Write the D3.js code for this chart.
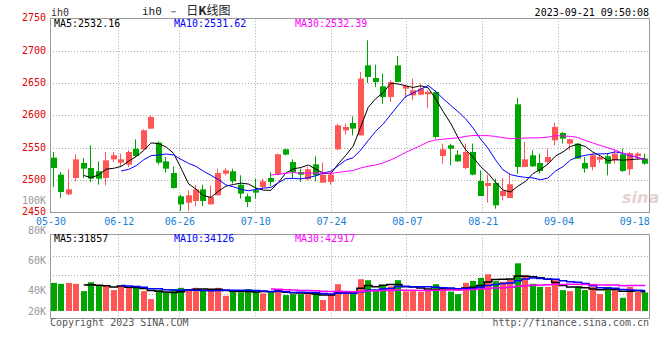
<!DOCTYPE html>
<html><head><meta charset="utf-8">
<script src="https://cdnjs.cloudflare.com/ajax/libs/d3/7.8.5/d3.min.js"></script>
<style>
body{margin:0;background:#fff}
svg{display:block}
text{font-family:"DejaVu Sans Mono","Liberation Mono",monospace;font-size:10px}
</style>
</head><body>
<svg id="c" width="660" height="360"></svg>
<script>
// ---------------- data ----------------
const dates = ["05-30","05-31","06-01","06-02","06-05","06-06","06-07","06-08","06-09","06-12",
"06-13","06-14","06-15","06-16","06-19","06-20","06-21","06-26","06-27","06-28",
"06-29","06-30","07-03","07-04","07-05","07-06","07-07","07-10","07-11","07-12",
"07-13","07-14","07-17","07-18","07-19","07-20","07-21","07-24","07-25","07-26",
"07-27","07-28","07-31","08-01","08-02","08-03","08-04","08-07","08-08","08-09",
"08-10","08-11","08-14","08-15","08-16","08-17","08-18","08-21","08-22","08-23",
"08-24","08-25","08-28","08-29","08-30","08-31","09-01","09-04","09-05","09-06",
"09-07","09-08","09-11","09-12","09-13","09-14","09-15","09-18","09-19","09-20"];
const open = [2534.5,2508.2,2477.8,2503.1,2526.3,2518.5,2513.4,2503.1,2531.9,2526.8,
2523.7,2548.4,2547.4,2579.4,2557.7,2528.8,2510.8,2474.7,2464.9,2467.5,
2485.5,2462.3,2476.3,2509.8,2513.4,2492.7,2474.7,2484.0,2489.1,2503.1,
2508.7,2547.4,2527.8,2512.3,2501.0,2524.2,2495.8,2496.9,2547.4,2576.8,
2588.1,2569.0,2677.3,2657.7,2644.8,2628.3,2677.3,2641.2,2630.9,2631.9,
2632.5,2636.1,2537.1,2553.6,2539.2,2518.5,2543.3,2498.4,2490.7,2495.3,
2475.2,2472.1,2617.0,2520.1,2538.1,2526.3,2527.8,2561.3,2572.7,2556.2,
2556.2,2526.3,2520.1,2531.4,2536.6,2530.4,2539.7,2516.5,2537.1,2533.0];
const high = [2543.3,2512.3,2516.5,2539.7,2534.0,2553.6,2528.8,2543.3,2543.3,2540.7,
2545.9,2562.9,2578.3,2600.0,2559.8,2535.5,2521.1,2477.3,2484.0,2491.7,
2492.7,2491.7,2517.5,2518.5,2517.5,2507.2,2478.8,2502.0,2502.0,2512.3,
2540.7,2548.4,2531.9,2517.5,2520.1,2536.6,2526.8,2512.3,2587.1,2587.1,
2598.4,2667.0,2716.0,2678.3,2664.4,2654.1,2691.7,2647.4,2656.7,2649.0,
2638.6,2638.6,2556.2,2556.2,2545.9,2556.2,2556.2,2514.9,2508.2,2502.0,
2503.1,2509.8,2626.8,2558.7,2545.9,2540.7,2548.4,2588.6,2574.2,2563.9,
2557.2,2535.5,2540.7,2538.1,2540.7,2545.9,2548.4,2543.3,2543.3,2540.7];
const low = [2489.0,2472.1,2476.3,2497.9,2503.1,2496.9,2492.8,2491.7,2527.8,2521.6,
2520.0,2535.5,2545.9,2579.4,2523.7,2511.3,2486.6,2452.0,2452.0,2459.8,
2459.8,2462.3,2476.3,2507.2,2494.3,2471.1,2458.2,2471.1,2485.5,2490.7,
2507.2,2538.1,2502.0,2496.9,2499.4,2497.9,2495.8,2492.7,2545.9,2570.1,
2569.0,2569.0,2650.0,2643.8,2618.0,2620.6,2651.5,2626.8,2623.2,2630.9,
2611.3,2563.9,2525.2,2522.7,2527.8,2516.5,2507.2,2475.2,2464.9,2455.6,
2468.5,2472.1,2509.8,2520.1,2520.1,2509.8,2525.2,2553.6,2556.2,2545.9,
2533.0,2511.3,2514.9,2526.3,2507.2,2525.2,2512.3,2507.2,2530.4,2523.7];
const close = [2518.5,2481.4,2485.5,2531.9,2517.5,2502.0,2502.0,2530.4,2538.1,2531.9,
2543.3,2537.1,2576.8,2597.4,2526.8,2517.5,2487.6,2462.3,2476.3,2485.5,
2467.5,2473.7,2510.8,2514.9,2497.9,2478.8,2466.0,2480.4,2497.9,2496.9,
2539.7,2539.2,2512.3,2508.2,2516.5,2507.2,2508.2,2508.2,2584.5,2581.9,
2579.4,2656.7,2659.3,2651.5,2628.3,2651.5,2651.5,2645.3,2638.6,2641.2,
2636.1,2566.5,2547.4,2548.4,2528.8,2543.3,2508.2,2475.2,2495.3,2460.8,
2483.0,2493.3,2520.1,2531.9,2521.1,2513.9,2535.5,2581.9,2563.9,2562.9,
2533.0,2517.5,2538.1,2535.5,2525.2,2540.7,2513.9,2541.7,2540.7,2525.2];
const volume = [47000,45300,47000,45300,33200,48100,42000,41500,34900,41500,
38700,38700,33200,19900,34900,31000,36500,38700,36500,38700,
33700,34900,38700,25400,32000,31000,36500,33200,29400,31000,
36500,26600,28200,28200,28200,31000,18300,27700,44800,29900,
33500,53100,51500,34900,41800,41000,51500,32700,34000,32000,
34400,44800,40300,32400,28200,47000,50300,55300,61400,49800,
48600,53100,79700,59800,45300,40300,40300,51500,34900,33200,
40300,34900,40300,28200,40300,34900,22100,40300,32000,31000];
const dateTicks = ["05-30","06-12","06-26","07-10","07-24","08-07","08-21","09-04","09-18"];
const priceTicks = [2750,2700,2650,2600,2550,2500,2450];
const volTickValues = [100000,80000,60000,40000,20000];
const volTickLabels = ["100K","80K","60K","40K","20K"];
const maPeriods = [5,10,30];
const maColors = ["#000000","#0000ff","#ff00ff"];
const priceLegend = ["MA5:2532.16","MA10:2531.62","MA30:2532.39"];
const volLegend = ["MA5:31857","MA10:34126","MA30:42917"];

// ---------------- layout ----------------
const L = 50, R = 649;
const pTop = 18.3, pBot = 212.3;
const vTop = 234.5, vBot = 318.5, vBase = 311;
const UP = "#ff5555", DOWN = "#00a600";

const svg = d3.select("#c");
const x = d3.scaleBand().domain(dates).range([L, R]);
const bw = x.bandwidth();
const cx = i => x(dates[i]) + bw / 2;
const xl = d3.scaleLinear().domain([0, dates.length - 1]).range([L, R]);
const y = d3.scaleLinear().domain([2450, 2750]).range([pBot, pTop]);
const yv = d3.scaleLinear().domain([0, 127800]).range([vBase, vTop]);
const yvLab = d3.scaleLinear().domain([20000, 40000, 100000]).range([311, 290.7, 200.3]);

function ma(arr, n) {
  return arr.map((d, i) => i < n - 1 ? null : d3.mean(arr.slice(i - n + 1, i + 1)));
}

// header texts
svg.append("text").attr("x", 51).attr("y", 16).attr("fill", "#333").text("ih0");
const t = svg.append("text").attr("x", 142).attr("y", 15).attr("fill", "#222");
t.append("tspan").style("font-size", "11px").text("ih0 － ");
t.append("tspan").style("font-family", "'Noto Sans CJK SC'").style("font-size", "12px").text("日");
t.append("tspan").style("font-family", "'Noto Sans CJK SC'").style("font-size", "12px").style("font-weight", "bold").text("K");
t.append("tspan").style("font-family", "'Noto Sans CJK SC'").style("font-size", "12px").text("线图");
svg.append("text").attr("x", 649).attr("y", 15.5).attr("text-anchor", "end").attr("fill", "#000").text("2023-09-21 09:50:08");

// grid - price
const grid = svg.append("g").attr("stroke", "#aaa").attr("stroke-dasharray", "1,2").attr("stroke-width", 1);
priceTicks.slice(1, -1).forEach(v => {
  const yy = Math.round(y(v)) + 0.5;
  grid.append("line").attr("x1", L).attr("x2", R).attr("y1", yy).attr("y2", yy);
});
dateTicks.slice(1, -1).forEach(d => {
  const xx = Math.round(xl(dates.indexOf(d))) + 0.5;
  grid.append("line").attr("x1", xx).attr("x2", xx).attr("y1", pTop).attr("y2", pBot);
  grid.append("line").attr("x1", xx).attr("x2", xx).attr("y1", vTop).attr("y2", vBot);
});
// grid - volume (horizontal)
[0.253, 0.483, 0.709].forEach(f => {
  const yy = Math.round(vTop + f * (vBot - vTop)) + 0.5;
  grid.append("line").attr("x1", L).attr("x2", R).attr("y1", yy).attr("y2", yy);
});

// watermark
svg.append("text").attr("x", 622).attr("y", 203).style("font-family", "'DejaVu Sans'")
  .style("font-size", "16px").style("font-style", "italic").style("font-weight", "bold")
  .attr("fill", "#e6d2d2").text("sina");

// candles
const cg = svg.append("g");
dates.forEach((d, i) => {
  const up = close[i] >= open[i];
  const col = up ? UP : DOWN;
  const bx = Math.round(cx(i) - 3);
  cg.append("line").attr("x1", bx + 2.5).attr("x2", bx + 2.5)
    .attr("y1", y(high[i])).attr("y2", y(low[i])).attr("stroke", col).attr("stroke-width", 1);
  const top = y(Math.max(open[i], close[i])), bot = y(Math.min(open[i], close[i]));
  cg.append("rect").attr("x", bx).attr("width", 6)
    .attr("y", top).attr("height", Math.max(1, bot - top)).attr("fill", col);
  // volume
  cg.append("rect").attr("x", bx).attr("width", 6)
    .attr("y", yv(volume[i])).attr("height", vBase - yv(volume[i])).attr("fill", col);
});

// MA lines price
maPeriods.forEach((n, k) => {
  const m = ma(close, n);
  const line = d3.line().defined(d => d != null).x((d, i) => cx(i)).y(d => y(d));
  svg.append("path").attr("d", line(m)).attr("fill", "none").attr("stroke", maColors[k]).attr("stroke-width", 1);
  const mv = ma(volume, n);
  const lv = d3.line().defined(d => d != null).x((d, i) => cx(i)).y(d => yv(d)).curve(d3.curveStep);
  svg.append("path").attr("d", lv(mv)).attr("fill", "none").attr("stroke", maColors[k]).attr("stroke-width", 1.5);
});

// borders
svg.append("rect").attr("x", L + 0.5).attr("y", pTop + 0.2).attr("width", R - L).attr("height", pBot - pTop)
  .attr("fill", "none").attr("stroke", "#999");
svg.append("rect").attr("x", L + 0.5).attr("y", vTop).attr("width", R - L).attr("height", vBot - vTop)
  .attr("fill", "none").attr("stroke", "#999");

// legends
const legX = [54, 174, 295];
priceLegend.forEach((s, k) => svg.append("text").attr("x", legX[k]).attr("y", 27).attr("fill", maColors[k]).text(s));
volLegend.forEach((s, k) => svg.append("text").attr("x", legX[k]).attr("y", 242).attr("fill", maColors[k]).text(s));

// price axis labels
priceTicks.forEach(v => svg.append("text").attr("x", 46).attr("y", y(v) + 3).attr("text-anchor", "end")
  .attr("fill", "#e00000").text(v));
// volume labels
volTickValues.forEach((v, k) => svg.append("text").attr("x", 46).attr("y", yvLab(v) + 3.5).attr("text-anchor", "end")
  .attr("fill", "#999").text(volTickLabels[k]));
// date labels
dateTicks.forEach(d => svg.append("text").attr("x", xl(dates.indexOf(d)) + 1).attr("y", 224.5)
  .attr("text-anchor", "middle").attr("fill", "#1580d8").text(d));

// footer
svg.append("text").attr("x", 50).attr("y", 326).attr("fill", "#555").text("Copyright 2023 SINA.COM");
svg.append("text").attr("x", 649).attr("y", 326).attr("text-anchor", "end").attr("fill", "#555").text("http://finance.sina.com.cn");
</script>
</body></html>
